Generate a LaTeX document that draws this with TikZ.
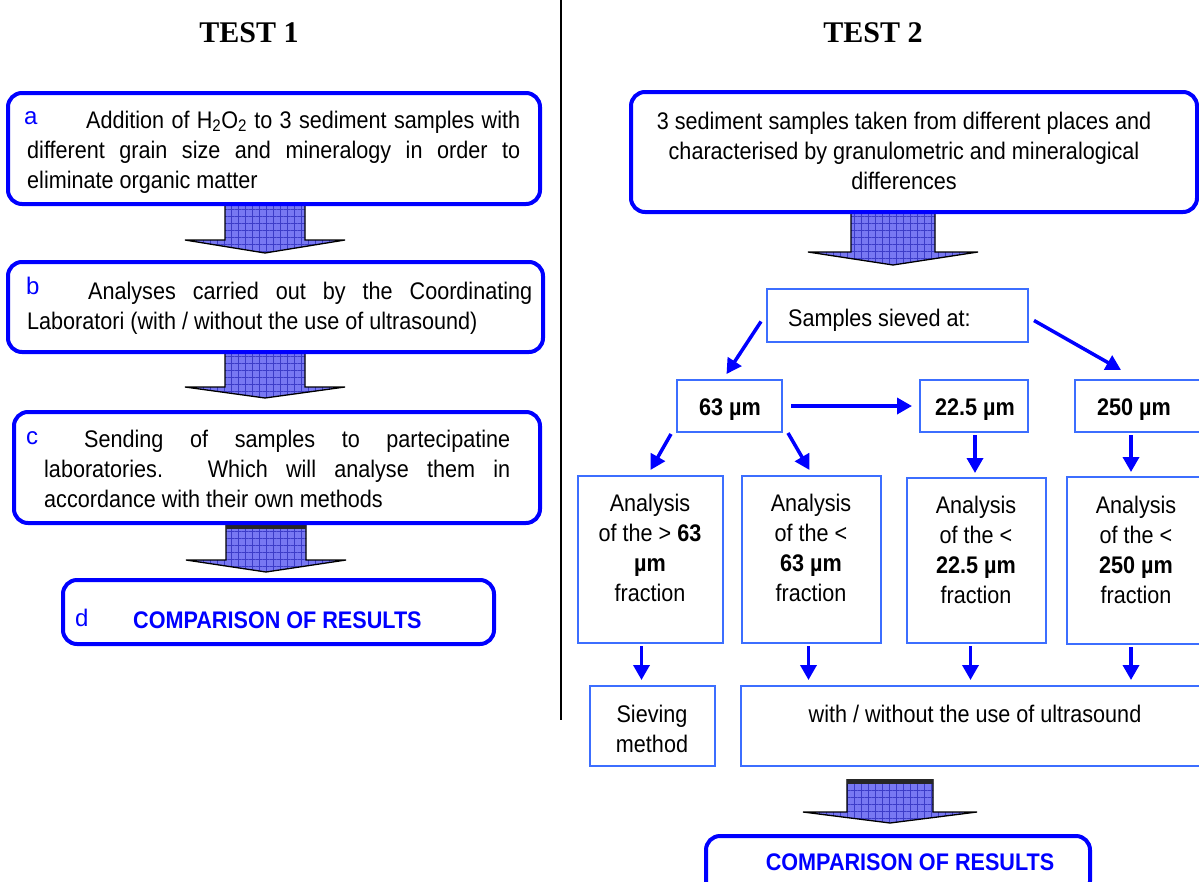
\documentclass[tikz,border=0pt]{standalone}
\usepackage{fontspec}
\setmainfont[FakeStretch=0.9]{Liberation Sans}
\newfontfamily\lblfont{Liberation Sans}
\newfontfamily\ttlfont{Liberation Serif}
\usetikzlibrary{arrows.meta,patterns.meta,calc}
\definecolor{lblue}{RGB}{0,0,255}
\definecolor{tblue}{RGB}{60,110,255}
\definecolor{afill}{RGB}{120,120,242}
\definecolor{agrid}{RGB}{60,60,200}
\newcommand\barrow[6]{% cx, top, wing y, tip y, shaft half, wing half
  \path[fill=afill] (#1-#5,#2) -- (#1+#5,#2) -- (#1+#5,#3) -- (#1+#6,#3) -- (#1,#4) -- (#1-#6,#3) -- (#1-#5,#3) -- cycle;
  \path[pattern={Lines[angle=0,distance=7pt,line width=0.5pt]},pattern color=agrid] (#1-#5,#2) -- (#1+#5,#2) -- (#1+#5,#3) -- (#1+#6,#3) -- (#1,#4) -- (#1-#6,#3) -- (#1-#5,#3) -- cycle;
  \path[pattern={Lines[angle=90,distance=7pt,line width=0.5pt]},pattern color=agrid] (#1-#5,#2) -- (#1+#5,#2) -- (#1+#5,#3) -- (#1+#6,#3) -- (#1,#4) -- (#1-#6,#3) -- (#1-#5,#3) -- cycle;
  \draw[line width=1.3pt,line join=miter] (#1-#5,#2) -- (#1-#5,#3) -- (#1-#6,#3) -- (#1,#4) -- (#1+#6,#3) -- (#1+#5,#3) -- (#1+#5,#2);
}
\begin{document}
\begin{tikzpicture}[x=1pt,y=-1pt,
  lbox/.style={draw=lblue,line width=4pt,rounded corners=14pt,inner sep=0pt,fill=white},
  tbox/.style={draw=tblue,line width=2pt,inner sep=0pt},
  txt/.style={inner sep=0pt,font=\fontsize{24}{30}\selectfont},
  lbl/.style={inner sep=0pt,text=lblue,font=\lblfont\fontsize{24}{30}\selectfont},
  ttl/.style={inner sep=0pt,font=\ttlfont\bfseries\fontsize{30}{36}\selectfont},
  arr/.style={draw=lblue,line width=3.5pt,-{Triangle[length=15pt,width=16pt]}}]
\useasboundingbox (0,0) rectangle (1199,881);
\fill[white] (0,0) rectangle (1199,881);

% titles and divider
\node[ttl,anchor=base] (t1) at (249,42) {TEST 1};
\node[ttl,anchor=base] (t2) at (873,42) {TEST 2};
\coordinate (dtop) at (561,0);
\coordinate (dbot) at (561,720);
\draw[line width=1.5pt] (dtop) -- (dbot);

% ---------- TEST 1 ----------
\barrow{265}{200}{240}{253}{40}{80}
\barrow{265}{350}{387}{398}{40}{80}
\barrow{266}{520}{560}{572}{40}{80}
\fill[black!85] (226,524) rectangle (306,529);

\node[lbox,minimum width=532pt,minimum height=111pt] (a) at (274,148.5) {};
\node[lbox,minimum width=535pt,minimum height=90pt] (b) at (275.5,307) {};
\node[lbox,minimum width=526pt,minimum height=111pt] (c) at (277,467.5) {};
\node[lbox,minimum width=431pt,minimum height=64pt] (d) at (278.5,612) {};

\node[lbl,anchor=base west] (la) at (24,124) {a};
\node[txt,anchor=base west,align=left] (ta) at (27,188)
  {\hspace*{59pt}\makebox[434pt][s]{Addition of H\textsubscript{2}O\textsubscript{2} to 3 sediment samples with}\\
   \makebox[493pt][s]{different grain size and mineralogy in order to}\\
   eliminate organic matter};

\node[lbl,anchor=base west] (lb) at (26,294) {b};
\node[txt,anchor=base west,align=left] (tb) at (27,329)
  {\hspace*{61pt}\makebox[444pt][s]{Analyses carried out by the Coordinating}\\
   Laboratori (with / without the use of ultrasound)};

\node[lbl,anchor=base west] (lc) at (26,444) {c};
\node[txt,anchor=base west,align=left] (tc) at (44,507)
  {\hspace*{40pt}\makebox[426pt][s]{Sending of samples to partecipatine}\\
   \makebox[466pt][s]{laboratories. Which will analyse them in}\\
   accordance with their own methods};

\node[lbl,anchor=base west] (ld) at (75,626) {d};
\node[txt,anchor=base west,text=lblue,font=\bfseries\fontsize{24}{30}\selectfont] (td) at (133,628) {COMPARISON OF RESULTS};

% ---------- TEST 2 ----------
\barrow{893}{214}{252}{265}{42}{85}
\barrow{890}{779}{812}{823}{43}{87}
\fill[black!85] (847,779) rectangle (933,784);

\node[lbox,minimum width=566pt,minimum height=120pt] (T) at (914,152) {};
\node[txt,anchor=base,align=center] (tT) at (904,189)
  {3 sediment samples taken from different places and\\
   characterised by granulometric and mineralogical\\
   differences};

\node[tbox,minimum width=261pt,minimum height=53pt] (S) at (897.5,315.5) {};
\node[txt,anchor=base west] (tS) at (788,326) {Samples sieved at:};

\node[tbox,minimum width=105pt,minimum height=52pt] (s63) at (729.5,406) {};
\node[tbox,minimum width=108pt,minimum height=52pt] (s22) at (974,406) {};
\node[tbox,minimum width=130pt,minimum height=52pt] (s250) at (1140,406) {};
\node[txt,anchor=base,font=\bfseries\fontsize{24}{30}\selectfont] (t63) at (730,415) {63 µm};
\node[txt,anchor=base,font=\bfseries\fontsize{24}{30}\selectfont] (t22) at (975,415) {22.5 µm};
\node[txt,anchor=base,font=\bfseries\fontsize{24}{30}\selectfont] (t250) at (1134,415) {250 µm};

\node[tbox,minimum width=145pt,minimum height=167pt] (A1) at (650.5,559.5) {};
\node[tbox,minimum width=139pt,minimum height=167pt] (A2) at (811.5,559.5) {};
\node[tbox,minimum width=139pt,minimum height=165pt] (A3) at (976.5,560.5) {};
\node[tbox,minimum width=138pt,minimum height=167pt] (A4) at (1136,560.5) {};
\node[txt,anchor=base,align=center] (tA1) at (650,601) {Analysis\\of the > \textbf{63}\\\textbf{µm}\\fraction};
\node[txt,anchor=base,align=center] (tA2) at (811,601) {Analysis\\of the <\\\textbf{63 µm}\\fraction};
\node[txt,anchor=base,align=center] (tA3) at (976,603) {Analysis\\of the <\\\textbf{22.5 µm}\\fraction};
\node[txt,anchor=base,align=center] (tA4) at (1136,603) {Analysis\\of the <\\\textbf{250 µm}\\fraction};

\node[tbox,minimum width=125pt,minimum height=80pt] (Sv) at (652.5,726) {};
\node[tbox,minimum width=464pt,minimum height=80pt] (W) at (973,726) {};
\node[txt,anchor=base,align=center] (tSv) at (652,752) {Sieving\\method};
\node[txt,anchor=base] (tW) at (975,722) {with / without the use of ultrasound};

\node[lbox,minimum width=384pt,minimum height=59pt] (CR) at (898,865.5) {};
\node[txt,anchor=base,text=lblue,font=\bfseries\fontsize{24}{30}\selectfont] (tCR) at (910,870) {COMPARISON OF RESULTS};

% connectors
\draw[arr] ($(S.west)+(-5,6)$) -- ($(s63.north)+(-3,-5)$);
\draw[arr] ($(S.east)+(5,5)$) -- ($(s250.north west)+(47,-9)$);
\draw[arr] ($(s63.east)+(8,0)$) -- ($(s22.west)+(-7,0)$);
\draw[arr] ($(s63.south west)+(-5,1)$) -- ($(A1.north)+(0,-5)$);
\draw[arr] ($(s63.south east)+(5,0)$) -- ($(A2.north)+(-2,-5)$);
\draw[arr] ($(s22.south)+(1,2)$) -- ($(s22.south |- A3.north)+(1,-4)$);
\draw[arr] ($(s250.south)+(-9,2)$) -- ($(A4.north)+(-5,-4)$);
\draw[arr] ($(A1.south)+(-9,2)$) -- ($(A1.south |- Sv.north)+(-9,-5)$);
\draw[arr] ($(A2.south)+(-3,2)$) -- ($(A2.south |- W.north)+(-3,-5)$);
\draw[arr] ($(A3.south)+(-6,2)$) -- ($(A3.south |- W.north)+(-6,-5)$);
\draw[arr] ($(A4.south)+(-5,2)$) -- ($(A4.south |- W.north)+(-5,-5)$);
\end{tikzpicture}
\end{document}
